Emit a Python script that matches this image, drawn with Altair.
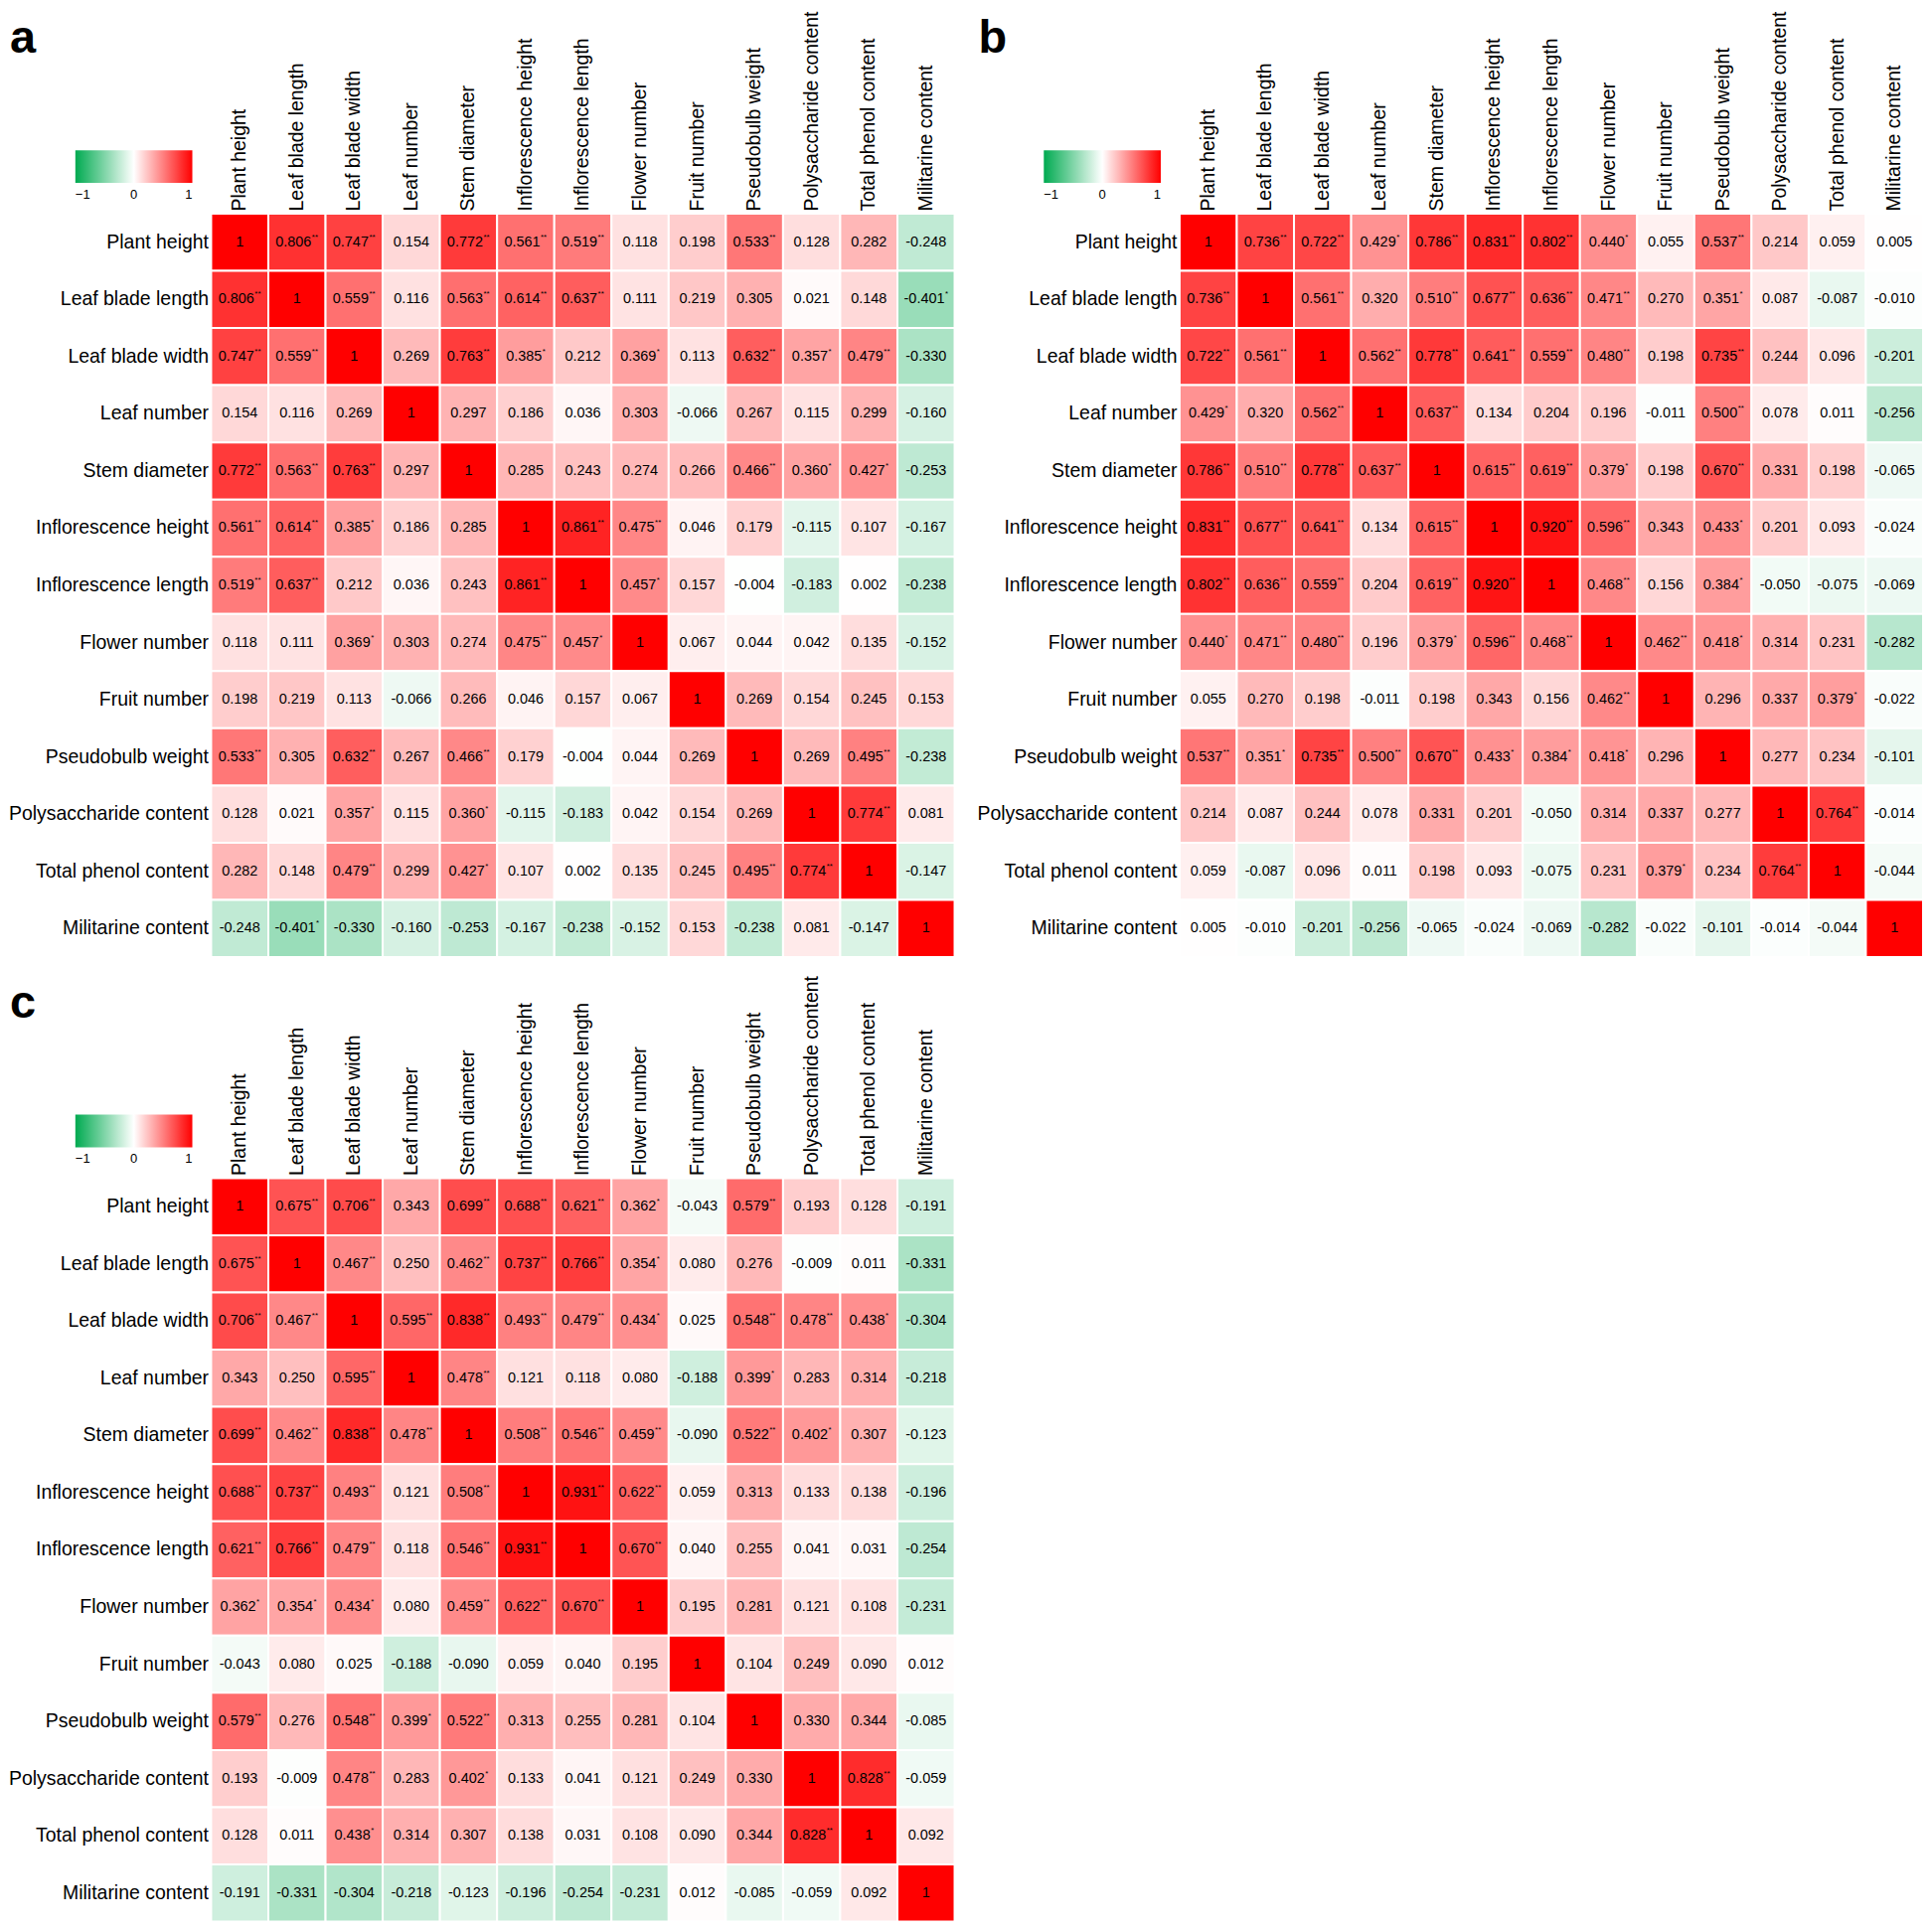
import altair as alt
import pandas as pd

FONT = "Liberation Sans"

VARS = ["Plant height", "Leaf blade length", "Leaf blade width", "Leaf number",
        "Stem diameter", "Inflorescence height", "Inflorescence length",
        "Flower number", "Fruit number", "Pseudobulb weight",
        "Polysaccharide content", "Total phenol content", "Militarine content"]

A_ROWS = [
    ["1", "0.806**", "0.747**", "0.154", "0.772**", "0.561**", "0.519**", "0.118", "0.198", "0.533**", "0.128", "0.282", "-0.248"],
    ["0.806**", "1", "0.559**", "0.116", "0.563**", "0.614**", "0.637**", "0.111", "0.219", "0.305", "0.021", "0.148", "-0.401*"],
    ["0.747**", "0.559**", "1", "0.269", "0.763**", "0.385*", "0.212", "0.369*", "0.113", "0.632**", "0.357*", "0.479**", "-0.330"],
    ["0.154", "0.116", "0.269", "1", "0.297", "0.186", "0.036", "0.303", "-0.066", "0.267", "0.115", "0.299", "-0.160"],
    ["0.772**", "0.563**", "0.763**", "0.297", "1", "0.285", "0.243", "0.274", "0.266", "0.466**", "0.360*", "0.427*", "-0.253"],
    ["0.561**", "0.614**", "0.385*", "0.186", "0.285", "1", "0.861**", "0.475**", "0.046", "0.179", "-0.115", "0.107", "-0.167"],
    ["0.519**", "0.637**", "0.212", "0.036", "0.243", "0.861**", "1", "0.457*", "0.157", "-0.004", "-0.183", "0.002", "-0.238"],
    ["0.118", "0.111", "0.369*", "0.303", "0.274", "0.475**", "0.457*", "1", "0.067", "0.044", "0.042", "0.135", "-0.152"],
    ["0.198", "0.219", "0.113", "-0.066", "0.266", "0.046", "0.157", "0.067", "1", "0.269", "0.154", "0.245", "0.153"],
    ["0.533**", "0.305", "0.632**", "0.267", "0.466**", "0.179", "-0.004", "0.044", "0.269", "1", "0.269", "0.495**", "-0.238"],
    ["0.128", "0.021", "0.357*", "0.115", "0.360*", "-0.115", "-0.183", "0.042", "0.154", "0.269", "1", "0.774**", "0.081"],
    ["0.282", "0.148", "0.479**", "0.299", "0.427*", "0.107", "0.002", "0.135", "0.245", "0.495**", "0.774**", "1", "-0.147"],
    ["-0.248", "-0.401*", "-0.330", "-0.160", "-0.253", "-0.167", "-0.238", "-0.152", "0.153", "-0.238", "0.081", "-0.147", "1"],
]

B_ROWS = [
    ["1", "0.736**", "0.722**", "0.429*", "0.786**", "0.831**", "0.802**", "0.440*", "0.055", "0.537**", "0.214", "0.059", "0.005"],
    ["0.736**", "1", "0.561**", "0.320", "0.510**", "0.677**", "0.636**", "0.471**", "0.270", "0.351*", "0.087", "-0.087", "-0.010"],
    ["0.722**", "0.561**", "1", "0.562**", "0.778**", "0.641**", "0.559**", "0.480**", "0.198", "0.735**", "0.244", "0.096", "-0.201"],
    ["0.429*", "0.320", "0.562**", "1", "0.637**", "0.134", "0.204", "0.196", "-0.011", "0.500**", "0.078", "0.011", "-0.256"],
    ["0.786**", "0.510**", "0.778**", "0.637**", "1", "0.615**", "0.619**", "0.379*", "0.198", "0.670**", "0.331", "0.198", "-0.065"],
    ["0.831**", "0.677**", "0.641**", "0.134", "0.615**", "1", "0.920**", "0.596**", "0.343", "0.433*", "0.201", "0.093", "-0.024"],
    ["0.802**", "0.636**", "0.559**", "0.204", "0.619**", "0.920**", "1", "0.468**", "0.156", "0.384*", "-0.050", "-0.075", "-0.069"],
    ["0.440*", "0.471**", "0.480**", "0.196", "0.379*", "0.596**", "0.468**", "1", "0.462**", "0.418*", "0.314", "0.231", "-0.282"],
    ["0.055", "0.270", "0.198", "-0.011", "0.198", "0.343", "0.156", "0.462**", "1", "0.296", "0.337", "0.379*", "-0.022"],
    ["0.537**", "0.351*", "0.735**", "0.500**", "0.670**", "0.433*", "0.384*", "0.418*", "0.296", "1", "0.277", "0.234", "-0.101"],
    ["0.214", "0.087", "0.244", "0.078", "0.331", "0.201", "-0.050", "0.314", "0.337", "0.277", "1", "0.764**", "-0.014"],
    ["0.059", "-0.087", "0.096", "0.011", "0.198", "0.093", "-0.075", "0.231", "0.379*", "0.234", "0.764**", "1", "-0.044"],
    ["0.005", "-0.010", "-0.201", "-0.256", "-0.065", "-0.024", "-0.069", "-0.282", "-0.022", "-0.101", "-0.014", "-0.044", "1"],
]

C_ROWS = [
    ["1", "0.675**", "0.706**", "0.343", "0.699**", "0.688**", "0.621**", "0.362*", "-0.043", "0.579**", "0.193", "0.128", "-0.191"],
    ["0.675**", "1", "0.467**", "0.250", "0.462**", "0.737**", "0.766**", "0.354*", "0.080", "0.276", "-0.009", "0.011", "-0.331"],
    ["0.706**", "0.467**", "1", "0.595**", "0.838**", "0.493**", "0.479**", "0.434*", "0.025", "0.548**", "0.478**", "0.438*", "-0.304"],
    ["0.343", "0.250", "0.595**", "1", "0.478**", "0.121", "0.118", "0.080", "-0.188", "0.399*", "0.283", "0.314", "-0.218"],
    ["0.699**", "0.462**", "0.838**", "0.478**", "1", "0.508**", "0.546**", "0.459**", "-0.090", "0.522**", "0.402*", "0.307", "-0.123"],
    ["0.688**", "0.737**", "0.493**", "0.121", "0.508**", "1", "0.931**", "0.622**", "0.059", "0.313", "0.133", "0.138", "-0.196"],
    ["0.621**", "0.766**", "0.479**", "0.118", "0.546**", "0.931**", "1", "0.670**", "0.040", "0.255", "0.041", "0.031", "-0.254"],
    ["0.362*", "0.354*", "0.434*", "0.080", "0.459**", "0.622**", "0.670**", "1", "0.195", "0.281", "0.121", "0.108", "-0.231"],
    ["-0.043", "0.080", "0.025", "-0.188", "-0.090", "0.059", "0.040", "0.195", "1", "0.104", "0.249", "0.090", "0.012"],
    ["0.579**", "0.276", "0.548**", "0.399*", "0.522**", "0.313", "0.255", "0.281", "0.104", "1", "0.330", "0.344", "-0.085"],
    ["0.193", "-0.009", "0.478**", "0.283", "0.402*", "0.133", "0.041", "0.121", "0.249", "0.330", "1", "0.828**", "-0.059"],
    ["0.128", "0.011", "0.438*", "0.314", "0.307", "0.138", "0.031", "0.108", "0.090", "0.344", "0.828**", "1", "0.092"],
    ["-0.191", "-0.331", "-0.304", "-0.218", "-0.123", "-0.196", "-0.254", "-0.231", "0.012", "-0.085", "-0.059", "0.092", "1"],
]

COLOR_DOMAIN = [-1, 0, 1]
COLOR_RANGE = ["#00AA50", "#FFFFFF", "#FF0000"]
LEGEND_TICKS = [-1, 0, 1]

CELL = 750
NUM_SIZE = 14.5
STAR_SIZE = 8
LABEL_SIZE = 19.5


def panel(rows, letter):
    recs = []
    for i, r in enumerate(rows):
        for j, s in enumerate(r):
            num = s.rstrip("*")
            st = s[len(num):]
            recs.append({"row": VARS[i], "col": VARS[j], "v": float(num),
                         "num": num, "stars": st, "ns": len(st),
                         "neg": num.startswith("-")})
    df = pd.DataFrame(recs)

    base = alt.Chart(df).encode(
        x=alt.X("col:N", sort=VARS, title=None,
                scale=alt.Scale(paddingInner=0, paddingOuter=0),
                axis=alt.Axis(orient="top", labelAngle=-90, labelFontSize=LABEL_SIZE,
                              labelFont=FONT, labelColor="black", labelPadding=3,
                              labelLimit=0, ticks=False, domain=False)),
        y=alt.Y("row:N", sort=VARS, title=None,
                scale=alt.Scale(paddingInner=0, paddingOuter=0),
                axis=alt.Axis(labelFontSize=LABEL_SIZE, labelFont=FONT,
                              labelColor="black", labelPadding=3, labelLimit=0,
                              ticks=False, domain=False)),
    )

    rect = base.mark_rect(stroke="white", strokeWidth=2).encode(
        color=alt.Color("v:Q",
                        scale=alt.Scale(domain=COLOR_DOMAIN, range=COLOR_RANGE,
                                        interpolate="rgb"),
                        legend=alt.Legend(orient="none", legendX=-137, legendY=-64,
                                          direction="horizontal", gradientLength=118,
                                          gradientThickness=33, values=LEGEND_TICKS,
                                          title=None, labelFontSize=13, labelFont=FONT,
                                          labelColor="black", labelAlign="center",
                                          gradientStrokeWidth=0, padding=0,
                                          labelOffset=6))
    )

    layers = [rect]
    num_dx = {0: 0, 1: -1.75, 2: -3.5}
    for n in (0, 1, 2):
        layers.append(
            base.transform_filter(f"datum.ns == {n}")
            .mark_text(font=FONT, fontSize=NUM_SIZE, color="black", dx=num_dx[n])
            .encode(text="num:N")
        )
    for n in (1, 2):
        for neg in (False, True):
            half = 18.1 + (2.4 if neg else 0)
            cond = f"datum.ns == {n} && {'datum.neg' if neg else '!datum.neg'}"
            layers.append(
                base.transform_filter(cond)
                .mark_text(font=FONT, fontSize=STAR_SIZE, color="black",
                           align="left", baseline="alphabetic",
                           dx=num_dx[n] + half + 0.5, dy=-3)
                .encode(text="stars:N")
            )

    lt = alt.Chart(pd.DataFrame({"t": [letter]})).mark_text(
        font=FONT, fontSize=47, fontWeight="bold", color="black",
        align="left", baseline="top"
    ).encode(text="t:N", x=alt.value(-203), y=alt.value(-199))
    layers.append(lt)

    return alt.layer(*layers).properties(width=CELL, height=CELL)


pa = panel(A_ROWS, "a")
pb = panel(B_ROWS, "b")
pc = panel(C_ROWS, "c")

top = alt.hconcat(pa, pb, spacing=20).resolve_scale(color="independent")
chart = alt.vconcat(top, pc, spacing=16).resolve_scale(color="independent").properties(
    padding=0
).configure_view(stroke=None)

chart.save("out.html", embed_options={"renderer": "svg", "actions": False})
